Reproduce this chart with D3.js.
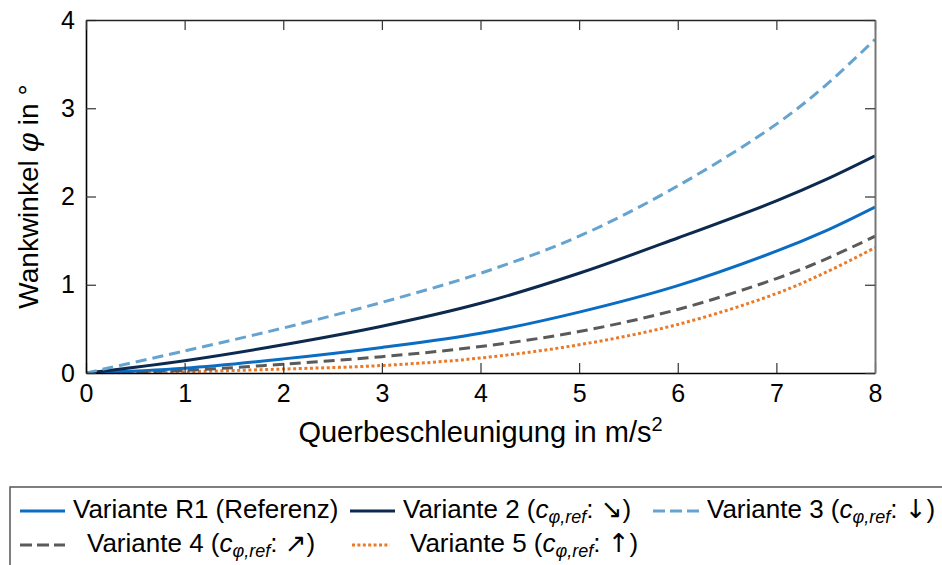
<!DOCTYPE html>
<html>
<head>
<meta charset="utf-8">
<script src="https://cdn.jsdelivr.net/npm/d3@7"></script>
<style>
  html, body { margin: 0; padding: 0; background: #fff; }
  svg { display: block; font-family: "Liberation Sans", Arial, Helvetica, sans-serif; }
</style>
</head>
<body>
<svg id="chart" width="942" height="565"></svg>
<script>
// Querbeschleunigung in m/s² (x) and roll angle in degrees for each variant
const accel      = [0, 1, 2, 3, 4, 5, 6, 7, 7.5, 8];
const varR1      = [0, 0.055, 0.16, 0.29, 0.45, 0.69, 0.99, 1.38, 1.61, 1.88];
const variante2  = [0, 0.14, 0.32, 0.53, 0.79, 1.13, 1.53, 1.95, 2.19, 2.46];
const variante3  = [0, 0.25, 0.51, 0.80, 1.13, 1.55, 2.12, 2.82, 3.26, 3.78];
const variante4  = [0, 0.03, 0.10, 0.185, 0.30, 0.47, 0.72, 1.07, 1.29, 1.55];
const variante5  = [0, 0.015, 0.045, 0.085, 0.17, 0.32, 0.55, 0.90, 1.14, 1.42];
const xTicks = [0, 1, 2, 3, 4, 5, 6, 7, 8];
const yTicks = [0, 1, 2, 3, 4];

const series = [
  { values: varR1,     color: "#0a6cc2", dash: null,    legendDash: null },
  { values: variante2, color: "#0c2a4f", dash: null,    legendDash: null },
  { values: variante3, color: "#65a3d0", dash: "11,6",  legendDash: "12,5" },
  { values: variante4, color: "#5a5a5a", dash: "11,6",  legendDash: "12,5" },
  { values: variante5, color: "#ea7a28", dash: "3,2.6", legendDash: "3,2.4" }
];

const svg = d3.select("#chart");
const m = { left: 86, right: 875, top: 20, bottom: 373 };

const x = d3.scaleLinear().domain([0, 8]).range([m.left, m.right]);
const y = d3.scaleLinear().domain([0, 4]).range([m.bottom, m.top]);

// clip the curves to the plotting area
svg.append("defs").append("clipPath").attr("id", "plotClip")
  .append("rect").attr("x", m.left).attr("y", m.top)
  .attr("width", m.right - m.left).attr("height", m.bottom - m.top);

// curves
const line = d3.line().x(d => x(d[0])).y(d => y(d[1])).curve(d3.curveCatmullRom.alpha(0.5));
const drawOrder = [4, 3, 0, 1, 2];
const plot = svg.append("g").attr("clip-path", "url(#plotClip)");
drawOrder.forEach(i => {
  const s = series[i];
  plot.append("path")
    .datum(accel.map((a, k) => [a, s.values[k]]))
    .attr("d", line)
    .attr("fill", "none")
    .attr("stroke", s.color)
    .attr("stroke-width", 3)
    .attr("stroke-dasharray", s.dash);
});

// axes with inward ticks on all four sides
const tickLen = 10;
const fmt = d3.format("d");
const gB = svg.append("g").attr("transform", `translate(0,${m.bottom})`)
  .call(d3.axisBottom(x).tickValues(xTicks).tickFormat(fmt).tickSizeInner(-tickLen).tickSizeOuter(0).tickPadding(11));
const gL = svg.append("g").attr("transform", `translate(${m.left},0)`)
  .call(d3.axisLeft(y).tickValues(yTicks).tickFormat(fmt).tickSizeInner(-tickLen).tickSizeOuter(0).tickPadding(11));
const gT = svg.append("g").attr("transform", `translate(0,${m.top})`)
  .call(d3.axisTop(x).tickValues(xTicks).tickFormat("").tickSizeInner(-tickLen).tickSizeOuter(0));
const gR = svg.append("g").attr("transform", `translate(${m.right},0)`)
  .call(d3.axisRight(y).tickValues(yTicks).tickFormat("").tickSizeInner(-tickLen).tickSizeOuter(0));

[gB, gL].forEach(g => {
  g.select(".domain").attr("stroke", "#000").attr("stroke-width", 1.6);
  g.selectAll(".tick line").attr("stroke", "#333").attr("stroke-width", 1.2);
  g.selectAll(".tick text").attr("font-size", 25).attr("fill", "#000")
    .attr("font-family", "Liberation Sans, Arial, sans-serif");
});
gT.select(".domain").attr("stroke", "#222").attr("stroke-width", 1.4);
gR.select(".domain").attr("stroke", "#777").attr("stroke-width", 2);
[gT, gR].forEach(g => g.selectAll(".tick line").attr("stroke", "#333").attr("stroke-width", 1.2));

// axis titles
const xt = svg.append("text")
  .attr("x", (m.left + m.right) / 2).attr("y", 442)
  .attr("text-anchor", "middle").attr("font-size", 29).attr("fill", "#000");
xt.append("tspan").text("Querbeschleunigung in m/s");
xt.append("tspan").attr("baseline-shift", "super").attr("font-size", 20).text("2");

const yt = svg.append("text")
  .attr("transform", `translate(38,${(m.top + m.bottom) / 2}) rotate(-90)`)
  .attr("text-anchor", "middle").attr("font-size", 28).attr("fill", "#000");
yt.append("tspan").text("Wankwinkel ");
yt.append("tspan").attr("font-style", "italic").attr("font-family", "DejaVu Serif, serif").text("φ");
yt.append("tspan").text(" in °");

// legend
const legend = svg.append("g");
legend.append("rect")
  .attr("x", 10).attr("y", 487).attr("width", 960).attr("height", 100)
  .attr("fill", "#fff").attr("stroke", "#555").attr("stroke-width", 1.5);

const legendItems = [
  { s: 0, x1: 20,  x2: 65,  tx: 73,  row: 0, label: "Variante R1 (Referenz)" },
  { s: 1, x1: 350, x2: 395, tx: 403, row: 0, label: "Variante 2", arrow: "↘" },
  { s: 2, x1: 653, x2: 699, tx: 707, row: 0, label: "Variante 3", arrow: "↓" },
  { s: 3, x1: 20,  x2: 65,  tx: 87,  row: 1, label: "Variante 4", arrow: "↗" },
  { s: 4, x1: 352, x2: 390, tx: 410, row: 1, label: "Variante 5", arrow: "↑" }
];
const rowY = [511, 545];
legendItems.forEach(it => {
  const s = series[it.s];
  const cy = rowY[it.row];
  legend.append("line")
    .attr("x1", it.x1).attr("x2", it.x2).attr("y1", cy).attr("y2", cy)
    .attr("stroke", s.color).attr("stroke-width", 3)
    .attr("stroke-dasharray", s.legendDash);
  const t = legend.append("text").attr("x", it.tx).attr("y", cy + 7)
    .attr("font-size", 26).attr("fill", "#000");
  if (!it.arrow) {
    t.text(it.label);
  } else {
    t.append("tspan").text(it.label + " (");
    t.append("tspan").attr("font-style", "italic").text("c");
    t.append("tspan").attr("font-style", "italic").attr("font-size", 18)
      .attr("dy", 5).text("φ,ref");
    t.append("tspan").attr("dy", -5).text(": ");
    t.append("tspan").attr("font-family", "DejaVu Sans, sans-serif").attr("font-size", 26).text(it.arrow);
    t.append("tspan").text(")");
  }
});
</script>
</body>
</html>
